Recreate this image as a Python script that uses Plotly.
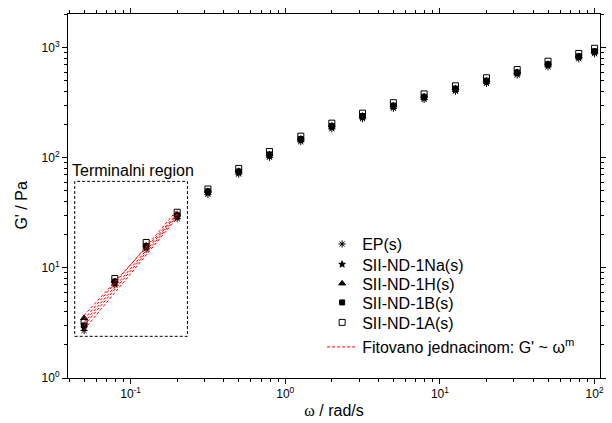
import plotly.graph_objects as go

# ---------------- data ----------------
omega = [0.05, 0.079, 0.126, 0.2, 0.316, 0.5, 0.79, 1.26, 2.0, 3.16,
         5.0, 7.9, 12.6, 20.0, 31.6, 50.0, 79.0, 100.0]

g_ep = [2.7, 7.0, 14.8, 28.0, 46.5, 71, 101, 140, 183, 226,
        281, 338, 401, 473, 563, 669, 790, 880]
g_na = [2.85, 7.3, 15.3, 29.0, 48.0, 73, 104, 144, 189, 233,
        290, 349, 414, 488, 581, 690, 815, 905]
g_h = [3.5, 7.6, 16.0, 30.5, 50.0, 76, 108, 149, 196, 241,
       300, 361, 428, 505, 601, 714, 840, 930]
g_b = [3.0, 7.5, 15.8, 30.0, 49.5, 75, 107, 148, 194, 239,
       297, 357, 424, 500, 595, 707, 833, 925]
g_a = [3.2, 8.0, 17.0, 32.0, 52.0, 80, 114, 157, 206, 254,
       316, 380, 450, 532, 632, 752, 885, 985]

series_names = ["EP(s)", "SII-ND-1Na(s)", "SII-ND-1H(s)", "SII-ND-1B(s)", "SII-ND-1A(s)"]
series_values = [g_ep, g_na, g_h, g_b, g_a]
series_symbols = ["asterisk-open", "star", "triangle-up", "square", "square-open"]
series_sizes = [6, 5, 6, 5, 6]

# terminal-region power-law fits (end points)
fit_omega = [0.05, 0.2]
fit_ep = [2.75, 28.5]
fit_na = [3.0, 29.5]
fit_h = [3.7, 31.0]
fit_b = [3.2, 30.5]
fit_a = [3.4, 33.5]
fit_values = [fit_ep, fit_na, fit_h, fit_b, fit_a]
fit_label = "Fitovano jednacinom: G' ~ ω<sup>m</sup>"

x_tick_vals = [0.1, 1, 10, 100]
x_tick_text = ["10<sup>-1</sup>", "10<sup>0</sup>", "10<sup>1</sup>", "10<sup>2</sup>"]
y_tick_vals = [1, 10, 100, 1000]
y_tick_text = ["10<sup>0</sup>", "10<sup>1</sup>", "10<sup>2</sup>", "10<sup>3</sup>"]

# ---------------- figure ----------------
FONT = "Liberation Sans, Arial, sans-serif"
fig = go.Figure()

legend_ids = ["legend", "legend2", "legend3", "legend4", "legend5", "legend6"]
legend_rows_y = [0.368, 0.312, 0.2596, 0.2074, 0.1525, 0.0852]
LEG_X = 0.4777

for k, (name, vals, sym, sz) in enumerate(zip(series_names, series_values,
                                             series_symbols, series_sizes)):
    fig.add_trace(go.Scatter(
        x=omega, y=vals, mode="markers", name=name,
        legend=legend_ids[k], showlegend=True,
        marker=dict(symbol=sym, size=sz, color="black",
                    line=dict(color="black", width=1)),
    ))

for i, vals in enumerate(fit_values):
    fig.add_trace(go.Scatter(
        x=fit_omega, y=vals, mode="lines", name=fit_label,
        legend=legend_ids[5], showlegend=(i == 0),
        line=dict(color="red", width=1, dash="3px,2px"),
    ))

minor_x = [m * 10 ** e for e in range(-2, 3) for m in range(2, 10)]
minor_y = [m * 10 ** e for e in range(0, 4) for m in range(2, 10)]

axis_common = dict(
    type="log", showgrid=False, zeroline=False,
    showline=True, linecolor="black", linewidth=1, mirror="ticks",
    ticks="outside", ticklen=5, tickwidth=1, tickcolor="black",
    tickfont=dict(family=FONT, size=12, color="black"),
)

fig.update_xaxes(
    **axis_common, range=[-1.405, 2.035],
    tickmode="array", tickvals=x_tick_vals, ticktext=x_tick_text,
    minor=dict(tickmode="array", tickvals=minor_x, ticks="outside", ticklen=3,
               tickcolor="black", showgrid=False),
    title=dict(text='<span style="font-family:Liberation Serif, Times New Roman, serif">ω</span> / rad/s',
               font=dict(family=FONT, size=16, color="black"), standoff=4),
)
fig.update_yaxes(
    **axis_common, range=[0, 3.305],
    tickmode="array", tickvals=y_tick_vals, ticktext=y_tick_text,
    minor=dict(tickmode="array", tickvals=minor_y, ticks="outside", ticklen=3,
               tickcolor="black", showgrid=False),
)

# terminal region box
fig.add_shape(type="rect", xref="x", yref="y",
              x0=0.0435, x1=0.233, y0=2.39, y1=61,
              line=dict(color="black", width=1, dash="3px,2px"))
fig.add_annotation(text="Terminalni region", xref="x", yref="y",
                   x=-1.395, y=1.79, xanchor="left", yanchor="bottom",
                   showarrow=False, font=dict(family=FONT, size=16, color="black"))

# y axis title
fig.add_annotation(text="G' / Pa", xref="paper", yref="paper",
                   x=-0.0874, y=0.475, textangle=-90, showarrow=False,
                   xanchor="center", yanchor="middle",
                   font=dict(family=FONT, size=16, color="black"))

legend_style = dict(xanchor="left", yanchor="middle",
                    bgcolor="rgba(0,0,0,0)", borderwidth=0,
                    font=dict(family=FONT, size=16, color="black"))
layout_legends = {lid: dict(x=LEG_X, y=ly, **legend_style)
                  for lid, ly in zip(legend_ids, legend_rows_y)}

fig.update_layout(
    width=612, height=423,
    margin=dict(l=68, r=6, t=14, b=45),
    plot_bgcolor="white", paper_bgcolor="white",
    font=dict(family=FONT, color="black"),
    showlegend=True,
    **layout_legends,
)

fig.write_html("out.html", config={"displayModeBar": False},
               post_script="document.body.style.margin='0px';")
